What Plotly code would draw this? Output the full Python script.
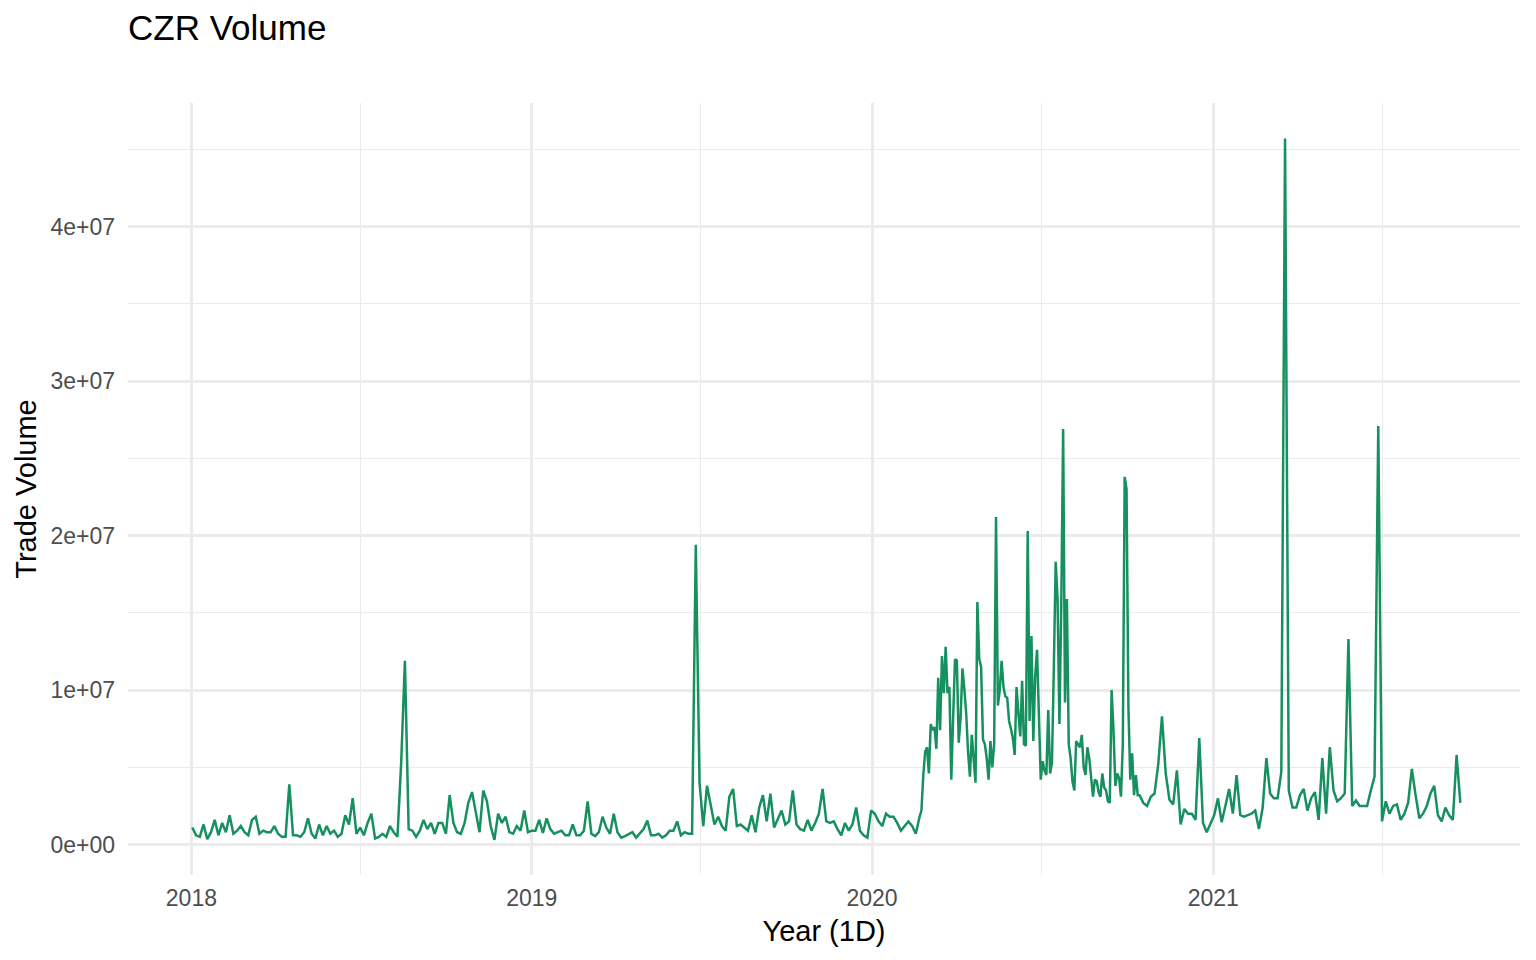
import pandas as pd
import plotly.graph_objects as go

title_text = "CZR Volume"
x_title = "Year (1D)"
y_title = "Trade Volume"

seg_a_start = "2018-01-02"   # sampled every 4 days
seg_a_volume_m = [
    1.1, 0.6, 0.5, 1.3, 0.35, 0.8, 1.6, 0.6, 1.4, 0.8, 1.9, 0.7, 0.9, 1.2, 0.8, 0.6,
    1.6, 1.8, 0.7, 0.9, 0.8, 0.8, 1.2, 0.7, 0.5, 0.5, 3.9, 0.6, 0.6, 0.5, 0.8, 1.7,
    0.7, 0.4, 1.3, 0.6, 1.2, 0.7, 0.9, 0.5, 0.7, 1.9, 1.3, 3.0, 0.7, 1.1,
    0.6, 1.4, 2.0, 0.4, 0.5, 0.7, 0.5, 1.2, 0.8, 0.5, 5.3, 11.9, 1.0, 0.9, 0.5, 0.9,
    1.6, 1.0, 1.4, 0.7, 1.4, 1.4, 0.7, 3.2, 1.4, 0.8, 0.7, 1.4, 2.7, 3.4, 2.1, 0.8,
    3.5, 2.8, 1.2, 0.3, 2.0, 1.4, 1.8, 0.8, 0.7, 1.2, 0.9, 2.2, 0.8, 0.9,
    0.9, 1.6, 0.75, 1.7, 1.0, 0.7, 0.8, 0.9, 0.6, 0.6, 1.3, 0.6, 0.6, 0.9, 2.8, 0.7,
    0.55, 0.8, 1.8, 1.1, 0.7, 2.0, 0.8, 0.45, 0.55, 0.7, 0.8, 0.45, 0.7, 1.0, 1.55, 0.6,
    0.6, 0.7, 0.45, 0.6, 0.9, 0.9, 1.5, 0.6, 0.8, 0.7, 0.7, 19.4, 4.0, 1.2, 3.8,
    2.45, 1.3, 1.8, 1.2, 0.9, 3.1, 3.6, 1.2, 1.3, 1.1, 0.9, 1.9, 0.8, 2.4, 3.2, 1.5,
    3.3, 1.1, 1.6, 2.2, 1.3, 1.5, 3.5, 1.3, 1.0, 0.9, 1.6, 0.9, 1.4, 2.0, 3.6, 1.5,
    1.4, 1.5, 1.0, 0.6, 1.4, 0.9, 1.3, 2.4, 0.9, 0.6, 0.45, 2.2,
    2.0, 1.5, 1.2, 2.0, 1.8, 1.8, 1.4, 0.9, 1.2, 1.5, 1.2, 0.7, 1.8,
]

seg_b_start = "2020-02-23"   # sampled every 2 days
seg_b_volume_m = [
    2.2, 4.5, 6.0, 6.3, 4.6, 7.8, 7.4, 7.6, 6.2, 10.8,
    7.4, 12.2, 9.8, 12.8, 9.8, 10.2, 4.2, 8.2, 12.0, 11.9,
    6.6, 8.2, 11.4, 10.1, 8.5, 6.0, 4.4, 7.1, 5.6, 4.0,
    15.7, 12.0, 11.5, 6.8, 6.5, 5.6, 4.2, 6.7, 5.0, 6.5,
    21.2, 9.0, 10.0, 11.9, 10.2, 9.6, 9.5, 8.0, 7.5, 6.9,
    5.8, 10.2, 8.5, 7.0, 10.6, 6.5, 6.4, 20.3, 8.0, 13.5,
    6.7, 10.9, 12.6, 9.0, 4.2, 5.4, 4.8, 4.5, 8.7, 4.6,
    5.3, 11.4, 18.3, 15.9, 7.8, 15.5, 26.9, 9.2, 15.9, 6.5,
    5.6, 4.1, 3.5, 6.7, 6.5, 6.3, 7.1, 5.0, 4.5, 6.3,
    5.6, 4.3, 3.1, 4.2, 4.1, 3.4, 3.1, 4.6, 3.7, 3.5,
    2.8, 2.7, 10.0, 7.4, 3.8, 4.6, 4.3, 3.1, 6.5, 23.8,
    23.0, 8.9, 4.2, 5.9, 3.2, 4.5, 3.2, 3.2, 2.9, 2.7,
]

seg_c_start = "2020-10-22"   # sampled every 4 days
seg_c_volume_m = [
    2.5, 3.1, 3.3, 5.2, 8.3, 4.6, 2.9, 2.6, 4.8, 1.3,
    2.3, 2.0, 2.0, 1.6, 6.9, 1.4, 0.8, 1.3, 1.9, 3.0,
    1.45, 2.5, 3.6, 2.0, 4.5, 1.9, 1.8, 1.9, 2.0, 2.2,
    1.0, 2.4, 5.6, 3.3, 3.0, 3.0, 4.7, 45.7, 3.5, 2.4,
    2.4, 3.2, 3.6, 2.2, 3.0, 3.4, 1.6, 5.6, 2.0, 6.3,
    3.5, 2.8, 3.0, 3.3,
    13.3, 2.5, 2.85, 2.5, 2.5, 2.5, 3.5, 4.4, 27.1, 1.5,
    2.8, 2.0, 2.5, 2.6, 1.6, 2.0, 2.7, 4.9, 3.2, 1.7,
    2.0, 2.5, 3.3, 3.8, 1.9, 1.5, 2.4, 1.9, 1.6, 5.8, 2.7,
]

year_ticks = ["2018-01-01", "2019-01-01", "2020-01-01", "2021-01-01"]
year_labels = ["2018", "2019", "2020", "2021"]
volume_ticks = [0, 1e7, 2e7, 3e7, 4e7]
volume_labels = ["0e+00", "1e+07", "2e+07", "3e+07", "4e+07"]

dates = (
    list(pd.date_range(seg_a_start, periods=len(seg_a_volume_m), freq="4D"))
    + list(pd.date_range(seg_b_start, periods=len(seg_b_volume_m), freq="2D"))
    + list(pd.date_range(seg_c_start, periods=len(seg_c_volume_m), freq="4D"))
)
volumes = [v * 1e6 for v in seg_a_volume_m + seg_b_volume_m + seg_c_volume_m]

line_color = "#17905F"
grid_color = "#EBEBEB"
font_family = "Liberation Sans, Arial, sans-serif"

# the page body has an 8px margin, so the figure is sized to fit inside it
fig_w, fig_h = 1528, 952

fig = go.Figure(
    go.Scatter(
        x=dates,
        y=volumes,
        mode="lines",
        line=dict(color=line_color, width=2.5),
        showlegend=False,
    )
)

fig.update_layout(
    width=fig_w,
    height=fig_h,
    margin=dict(l=120, r=16, t=95, b=85),
    paper_bgcolor="white",
    plot_bgcolor="white",
    font=dict(family=font_family, color="#000000"),
    title=dict(
        text=title_text,
        font=dict(size=35, color="#000000", family=font_family),
        x=120 / fig_w,
        xanchor="left",
        xref="container",
        y=1 - 20 / fig_h,
        yanchor="middle",
        yref="container",
    ),
)

fig.update_xaxes(
    type="date",
    range=["2017-10-25", "2021-11-26"],
    tickvals=year_ticks,
    ticktext=year_labels,
    tickfont=dict(size=23, color="#4D4D4D"),
    ticks="",
    ticklabelstandoff=7,
    showline=False,
    zeroline=False,
    showgrid=True,
    gridcolor=grid_color,
    gridwidth=2.6,
    minor=dict(dtick="M6", tick0="2018-01-01", showgrid=True, gridcolor=grid_color, gridwidth=1.4),
    title=dict(text=x_title, font=dict(size=29, color="#000000"), standoff=10),
    automargin=False,
)

fig.update_yaxes(
    range=[-1.97e6, 48.0e6],
    tickvals=volume_ticks,
    ticktext=volume_labels,
    tickfont=dict(size=23, color="#4D4D4D"),
    ticks="",
    ticklabelstandoff=12,
    showline=False,
    zeroline=False,
    showgrid=True,
    gridcolor=grid_color,
    gridwidth=2.6,
    minor=dict(dtick=5e6, tick0=0, showgrid=True, gridcolor=grid_color, gridwidth=1.4),
    title=dict(text=y_title, font=dict(size=29, color="#000000"), standoff=5),
    automargin=False,
)

fig.write_html("out.html")
